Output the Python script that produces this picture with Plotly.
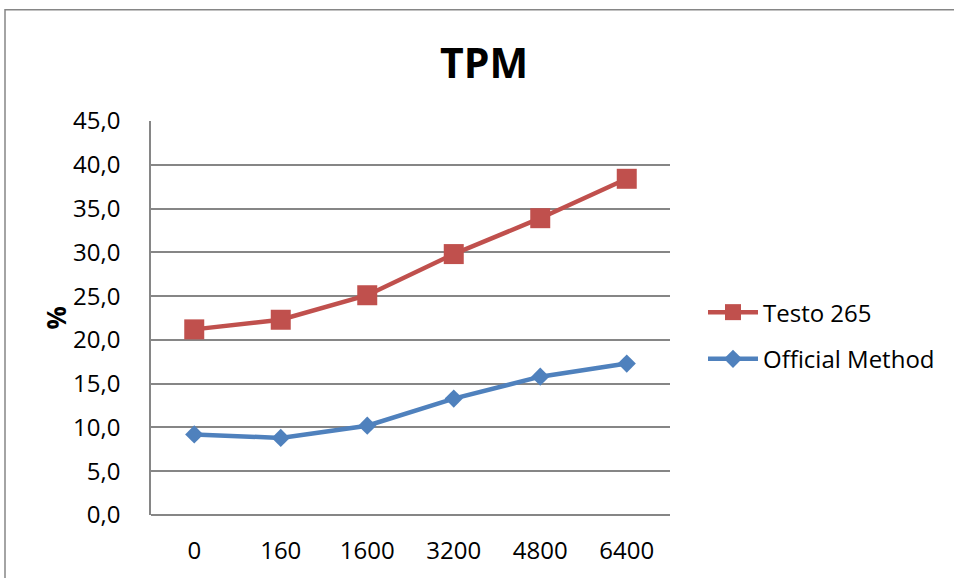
import plotly.graph_objects as go

categories = ["0", "160", "1600", "3200", "4800", "6400"]
testo_265 = [21.2, 22.3, 25.1, 29.8, 33.9, 38.4]
official_method = [9.2, 8.8, 10.2, 13.3, 15.8, 17.3]
y_ticks = [0, 5, 10, 15, 20, 25, 30, 35, 40, 45]

W, H = 954, 578
L, R, T, B = 151, 670, 121, 518  # plot area in pixels

def px(x):
    return (x - L) / (R - L)

def py(y):
    return (B - y) / (B - T)

FONT = "Open Sans"
RED = "#C0504D"
BLUE = "#4F81BD"
GRID = "#868686"
FS = 24

fig = go.Figure()
fig.add_trace(go.Scatter(
    x=categories, y=testo_265, name="Testo 265", mode="lines+markers",
    line=dict(color=RED, width=4.5),
    marker=dict(symbol="square", size=20, color=RED),
    legend="legend",
))
fig.add_trace(go.Scatter(
    x=categories, y=official_method, name="Official Method", mode="lines+markers",
    line=dict(color=BLUE, width=4.5),
    marker=dict(symbol="diamond", size=14, color=BLUE),
    legend="legend2",
))

leg_common = dict(xanchor="left", yanchor="middle",
                  font=dict(family=FONT, size=FS, color="black"),
                  bgcolor="rgba(0,0,0,0)", itemwidth=50)

fig.update_layout(
    width=W, height=H,
    margin=dict(l=L, r=W - R, t=T, b=H - B, pad=0),
    paper_bgcolor="white", plot_bgcolor="white",
    separators=", ",
    font=dict(family=FONT, size=FS, color="black"),
    showlegend=True,
    legend=dict(x=px(703), y=py(314), **leg_common),
    legend2=dict(x=px(703), y=py(361), **leg_common),
    xaxis=dict(
        type="category", range=[-0.5, 5.5], showgrid=False,
        showline=False, ticks="", zeroline=False,
        tickfont=dict(family=FONT, size=FS),
        ticklabelstandoff=19,
    ),
    yaxis=dict(
        range=[0, 45], tickvals=y_ticks, tickformat=".1f",
        showgrid=True, gridcolor=GRID, gridwidth=1.5,
        showline=True, linecolor=GRID, linewidth=1.5,
        zeroline=True, zerolinecolor=GRID, zerolinewidth=1.5,
        ticks="", tickfont=dict(family=FONT, size=FS),
        ticklabelstandoff=24,
    ),
    annotations=[
        dict(text="<b>TPM</b>", x=px(484), y=py(62), xref="paper", yref="paper",
             showarrow=False, font=dict(family=FONT, size=41, color="black"),
             xanchor="center", yanchor="middle"),
        dict(text="<b>%</b>", x=px(56), y=py(320), xref="paper", yref="paper",
             showarrow=False, textangle=-90,
             font=dict(family=FONT, size=26, color="black"),
             xanchor="center", yanchor="middle"),
    ],
    shapes=[
        dict(type="rect", xref="paper", yref="paper",
             x0=px(5), x1=px(960), y0=py(600), y1=py(9),
             line=dict(color=GRID, width=1.5), fillcolor="rgba(0,0,0,0)", layer="below"),
        dict(type="line", xref="paper", yref="paper",
             x0=px(L), x1=px(R), y0=0, y1=0,
             line=dict(color=GRID, width=1.5)),
    ],
)

fig.write_html("out.html")
